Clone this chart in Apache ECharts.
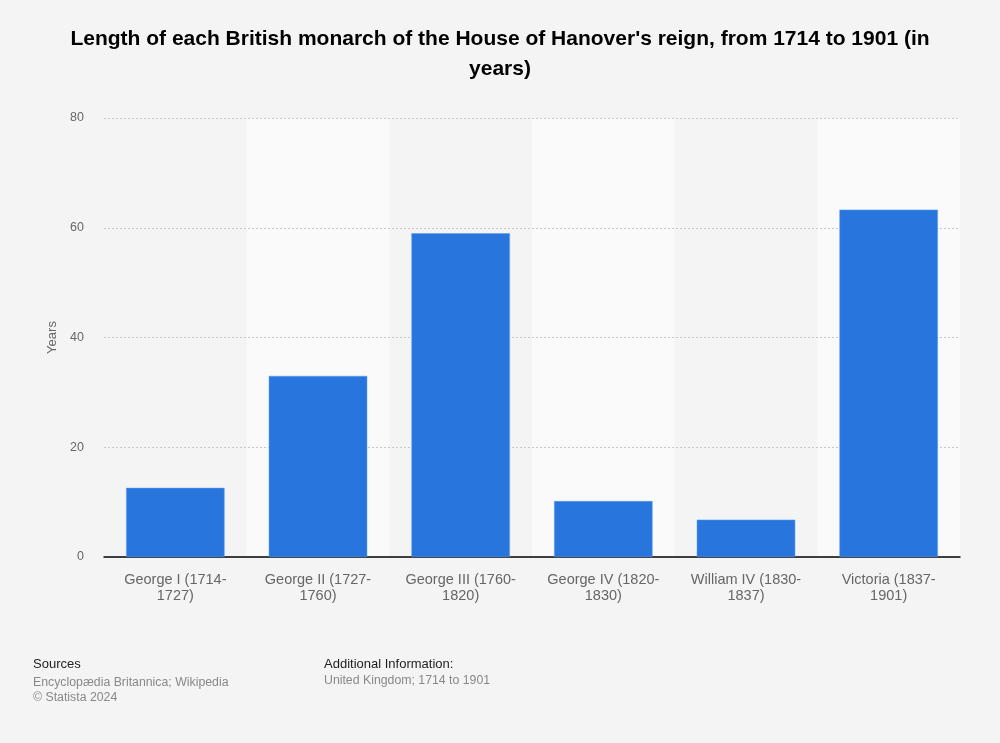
<!DOCTYPE html>
<html>
<head>
<meta charset="utf-8">
<script src="https://cdn.jsdelivr.net/npm/echarts@6/dist/echarts.min.js"></script>
<style>
html,body{margin:0;padding:0;background:#f4f4f4;}
#c{width:1000px;height:743px;}
</style>
</head>
<body>
<div id="c"></div>
<script>
const categories = ["George I (1714-\n1727)", "George II (1727-\n1760)", "George III (1760-\n1820)", "George IV (1820-\n1830)", "William IV (1830-\n1837)", "Victoria (1837-\n1901)"];
const years = [12.6, 33, 59, 10.2, 6.8, 63.3];
const yTicks = { min: 0, max: 80, interval: 20 };
const titleText = "Length of each British monarch of the House of Hanover's reign, from 1714 to 1901 (in\nyears)";

const chart = echarts.init(document.getElementById('c'));
chart.setOption({
  backgroundColor: '#f4f4f4',
  animation: false,
  title: {
    text: titleText,
    left: 'center',
    top: 19,
    textStyle: { fontFamily: 'Liberation Sans, Arial, sans-serif', fontSize: 21, fontWeight: 'bold', color: '#000', lineHeight: 30, align: 'center' }
  },
  grid: { left: 104, right: 40, top: 118, bottom: 186 },
  xAxis: {
    type: 'category',
    data: categories,
    z: 0,
    axisLine: { lineStyle: { color: '#000', width: 1.5 } },
    axisTick: { show: false },
    axisLabel: { color: '#666', fontSize: 14.5, fontFamily: 'Liberation Sans, Arial, sans-serif', margin: 15, lineHeight: 16, interval: 0 },
    splitArea: { show: true, areaStyle: { color: ['rgba(0,0,0,0)', '#fafafa'] } }
  },
  yAxis: {
    type: 'value',
    z: 1,
    min: yTicks.min, max: yTicks.max, interval: yTicks.interval,
    name: 'Years',
    nameLocation: 'middle',
    nameGap: 44,
    nameTextStyle: { color: '#666', fontSize: 13, fontFamily: 'Liberation Sans, Arial, sans-serif' },
    axisLine: { show: false },
    axisTick: { show: false },
    axisLabel: { color: '#666', fontSize: 12.5, fontFamily: 'Liberation Sans, Arial, sans-serif', margin: 20 },
    splitLine: { showMinLine: false, lineStyle: { color: '#c8c8c8', type: [2, 2], width: 1 } }
  },
  series: [{
    type: 'bar',
    data: years,
    z: 3,
    barWidth: '69%',
    itemStyle: { color: '#2876dd', borderColor: '#5a9bee', borderWidth: 0.5 }
  }],
  graphic: [
    { type: 'text', left: 33, top: 658, style: { text: 'Sources', fill: '#222', fontSize: 13, fontFamily: 'Liberation Sans, Arial, sans-serif' } },
    { type: 'text', left: 33, top: 675, style: { text: 'Encyclopædia Britannica; Wikipedia\n© Statista 2024', fill: '#888', fontSize: 12.3, lineHeight: 15, fontFamily: 'Liberation Sans, Arial, sans-serif' } },
    { type: 'text', left: 324, top: 658, style: { text: 'Additional Information:', fill: '#222', fontSize: 13, fontFamily: 'Liberation Sans, Arial, sans-serif' } },
    { type: 'text', left: 324, top: 675, style: { text: 'United Kingdom; 1714 to 1901', fill: '#888', fontSize: 12.3, fontFamily: 'Liberation Sans, Arial, sans-serif' } }
  ]
});
</script>
</body>
</html>
